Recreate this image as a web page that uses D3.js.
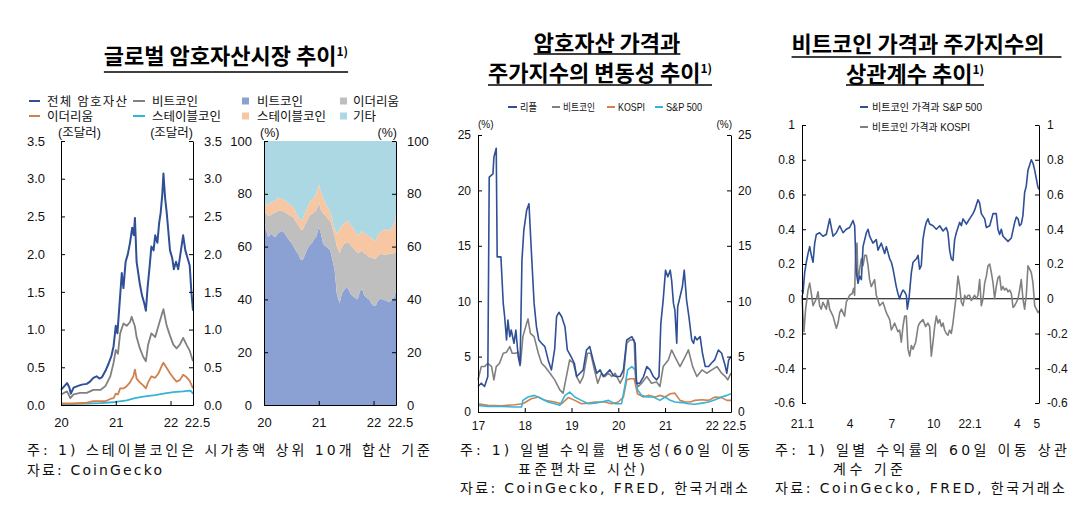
<!DOCTYPE html>
<html><head><meta charset="utf-8">
<script src="https://cdn.jsdelivr.net/npm/d3@7"></script>
<style>
body{margin:0;background:#fff}
svg{display:block}
</style>
</head><body>
<svg id="c" width="1088" height="528"></svg>
<script>
// ---------------- DATA ----------------
// Panel 1: global crypto market cap (trillion USD), [decimal year, value]
const cryptoTotal = [[2020.00,0.20],[2020.05,0.24],[2020.11,0.29],[2020.15,0.24],[2020.18,0.15],[2020.23,0.23],[2020.30,0.25],[2020.38,0.27],[2020.47,0.28],[2020.53,0.31],[2020.59,0.36],[2020.65,0.38],[2020.70,0.35],[2020.75,0.37],[2020.81,0.45],[2020.87,0.55],[2020.92,0.65],[2020.96,0.78],[2021.00,1.05],[2021.03,0.95],[2021.08,1.45],[2021.11,1.75],[2021.14,1.55],[2021.18,1.90],[2021.22,2.00],[2021.26,2.15],[2021.30,2.35],[2021.33,2.25],[2021.35,2.48],[2021.38,1.90],[2021.41,1.75],[2021.44,1.60],[2021.48,1.45],[2021.52,1.35],[2021.55,1.25],[2021.58,1.55],[2021.62,1.85],[2021.65,2.10],[2021.69,2.05],[2021.72,2.25],[2021.76,2.15],[2021.79,2.40],[2021.82,2.55],[2021.85,2.80],[2021.87,3.07],[2021.90,2.75],[2021.93,2.55],[2021.96,2.30],[2021.99,2.05],[2022.03,1.95],[2022.06,1.80],[2022.10,1.90],[2022.14,1.80],[2022.18,2.00],[2022.23,2.25],[2022.27,2.05],[2022.31,1.95],[2022.35,1.85],[2022.38,1.50],[2022.41,1.25]];
const bitcoinCap = [[2020.00,0.14],[2020.11,0.18],[2020.17,0.09],[2020.23,0.14],[2020.35,0.16],[2020.47,0.16],[2020.59,0.20],[2020.72,0.20],[2020.81,0.25],[2020.90,0.38],[2020.96,0.56],[2021.00,0.73],[2021.04,0.68],[2021.08,0.95],[2021.14,1.08],[2021.20,1.05],[2021.26,1.10],[2021.29,1.17],[2021.35,1.04],[2021.38,0.90],[2021.44,0.75],[2021.50,0.64],[2021.55,0.58],[2021.59,0.80],[2021.65,0.95],[2021.72,0.90],[2021.78,1.05],[2021.84,1.20],[2021.87,1.27],[2021.93,1.05],[2021.99,0.92],[2022.05,0.80],[2022.11,0.75],[2022.17,0.80],[2022.23,0.89],[2022.29,0.80],[2022.35,0.72],[2022.41,0.58]];
const ethereumCap = [[2020.00,0.02],[2020.20,0.02],[2020.47,0.03],[2020.59,0.05],[2020.72,0.05],[2020.81,0.05],[2020.90,0.08],[2020.96,0.09],[2021.00,0.15],[2021.04,0.14],[2021.08,0.22],[2021.14,0.22],[2021.20,0.25],[2021.26,0.30],[2021.32,0.38],[2021.35,0.47],[2021.38,0.35],[2021.44,0.30],[2021.50,0.26],[2021.55,0.22],[2021.59,0.30],[2021.65,0.38],[2021.72,0.36],[2021.78,0.42],[2021.84,0.52],[2021.87,0.56],[2021.93,0.49],[2021.99,0.42],[2022.05,0.36],[2022.11,0.31],[2022.17,0.33],[2022.23,0.40],[2022.29,0.37],[2022.35,0.32],[2022.41,0.22]];
const stableCap = [[2020.00,0.01],[2020.30,0.015],[2020.47,0.02],[2020.72,0.025],[2021.00,0.04],[2021.20,0.06],[2021.35,0.09],[2021.50,0.11],[2021.72,0.13],[2021.87,0.15],[2022.05,0.17],[2022.23,0.18],[2022.35,0.19],[2022.38,0.18],[2022.41,0.15]];

// Panel 2: market share (%), semi-monthly
const shareT = [2020.00,2020.04,2020.08,2020.13,2020.17,2020.21,2020.25,2020.29,2020.33,2020.38,2020.42,2020.46,2020.50,2020.54,2020.58,2020.63,2020.67,2020.71,2020.75,2020.79,2020.83,2020.88,2020.92,2020.96,2021.00,2021.04,2021.08,2021.13,2021.17,2021.21,2021.25,2021.29,2021.33,2021.38,2021.42,2021.46,2021.50,2021.54,2021.58,2021.63,2021.67,2021.71,2021.75,2021.79,2021.83,2021.88,2021.92,2021.96,2022.00,2022.04,2022.08,2022.13,2022.17,2022.21,2022.25,2022.29,2022.33,2022.38,2022.41];
const btcShare = [68,66,63.5,65,64,63.5,65,65.5,66,65,63.5,62.5,61.5,60,58.5,57,55,55,57,59,60.5,61.5,63,64,67.5,65,61,60,59.5,58.5,55,51,42,38.5,42,43.5,44.5,44,42,41,40.5,40,43,44,41.5,40.5,40,38.5,37.5,37.5,39.5,40.3,40,39.7,39.3,39,39.7,41,43.5];
const ethShare = [5.6,6.4,8.2,7.0,8.5,9.5,8.5,8.1,7.6,8.0,9.0,9.5,10.0,11.0,11.0,11.0,11.5,11.5,11.5,11.0,11.2,11.0,10.0,10.0,9.0,9.0,11.5,11.7,11.0,11.3,12.0,13.0,18.0,19.0,17.8,17.5,17.0,17.7,18.5,18.5,18.0,17.5,15.0,14.5,16.0,16.5,16.0,17.5,18.0,17.9,17.0,17.0,17.0,17.0,17.7,18.3,17.6,16.6,14.5];
const stableShare = [4.4,3.1,4.3,4.8,4.5,4.4,5.1,4.7,4.4,4.5,4.3,4.0,4.0,4.0,3.5,3.0,3.5,4.0,4.5,4.5,5.1,5.5,5.6,6.5,7.0,7.0,6.0,4.3,4.0,3.2,3.0,2.5,5.0,9.0,8.2,7.6,8.0,8.1,7.5,7.5,7.0,6.5,7.0,7.5,7.5,7.5,7.6,7.6,7.0,6.9,8.0,8.2,9.2,10.0,9.2,8.7,10.0,10.9,14.4];

// Panel 3: 60-day volatility (%), [decimal year, value]
const rippleVol = [[2017.00,2.3],[2017.07,2.6],[2017.14,2.3],[2017.21,3.2],[2017.24,21.2],[2017.32,21.5],[2017.34,23.0],[2017.39,23.8],[2017.41,14.0],[2017.49,14.0],[2017.54,9.8],[2017.57,8.6],[2017.61,6.5],[2017.64,8.3],[2017.68,6.8],[2017.71,7.4],[2017.77,6.2],[2017.81,7.4],[2017.86,5.0],[2017.90,4.2],[2017.94,13.7],[2017.98,16.4],[2018.04,18.2],[2018.09,18.8],[2018.14,14.6],[2018.20,9.8],[2018.25,7.7],[2018.30,6.5],[2018.36,6.2],[2018.43,5.9],[2018.50,4.7],[2018.57,3.8],[2018.64,5.7],[2018.68,8.6],[2018.73,9.0],[2018.79,8.6],[2018.86,7.7],[2018.91,5.6],[2018.99,5.0],[2019.06,4.4],[2019.11,3.2],[2019.18,3.5],[2019.25,3.8],[2019.32,5.6],[2019.39,5.9],[2019.46,4.7],[2019.54,3.5],[2019.61,3.8],[2019.68,3.2],[2019.75,3.5],[2019.82,3.8],[2019.89,3.3],[2019.96,3.2],[2020.04,3.2],[2020.11,3.8],[2020.18,6.5],[2020.29,6.8],[2020.36,6.2],[2020.39,2.6],[2020.46,2.6],[2020.54,3.2],[2020.61,4.1],[2020.68,3.8],[2020.75,3.2],[2020.82,2.9],[2020.87,3.2],[2020.91,8.0],[2020.96,10.1],[2021.01,12.8],[2021.06,12.2],[2021.11,12.8],[2021.14,11.9],[2021.18,9.8],[2021.21,9.2],[2021.25,6.2],[2021.27,9.5],[2021.32,10.4],[2021.37,11.3],[2021.41,12.8],[2021.46,10.1],[2021.51,8.6],[2021.57,6.5],[2021.61,6.2],[2021.64,6.8],[2021.68,6.5],[2021.75,6.8],[2021.80,5.3],[2021.86,4.1],[2021.93,4.1],[2021.99,4.4],[2022.06,4.7],[2022.14,5.6],[2022.21,5.3],[2022.29,4.1],[2022.32,3.5],[2022.36,4.7],[2022.41,5.0]];
const bitcoinVol = [[2017.00,2.9],[2017.07,4.1],[2017.14,4.1],[2017.21,4.4],[2017.29,4.1],[2017.34,2.9],[2017.39,4.1],[2017.46,4.4],[2017.54,5.3],[2017.61,5.4],[2017.68,5.9],[2017.73,5.3],[2017.80,5.3],[2017.86,5.4],[2017.91,4.4],[2017.96,6.8],[2018.04,8.0],[2018.07,8.4],[2018.12,7.1],[2018.20,6.8],[2018.29,5.3],[2018.36,4.4],[2018.43,4.1],[2018.54,3.5],[2018.64,2.9],[2018.75,2.0],[2018.82,1.7],[2018.89,3.2],[2018.96,4.7],[2019.04,4.4],[2019.11,3.2],[2019.18,2.6],[2019.25,3.2],[2019.34,5.3],[2019.41,5.3],[2019.49,3.8],[2019.56,2.6],[2019.64,3.5],[2019.71,3.2],[2019.79,3.5],[2019.86,3.2],[2019.93,3.5],[2020.04,2.6],[2020.11,3.2],[2020.18,6.2],[2020.25,6.5],[2020.34,6.5],[2020.37,2.9],[2020.43,2.3],[2020.50,2.6],[2020.61,3.2],[2020.71,2.6],[2020.82,2.7],[2020.89,2.3],[2020.96,4.1],[2021.07,4.7],[2021.14,5.6],[2021.21,5.0],[2021.32,4.1],[2021.43,5.0],[2021.50,5.6],[2021.59,4.1],[2021.68,3.2],[2021.79,3.8],[2021.89,3.5],[2022.00,3.8],[2022.11,4.1],[2022.21,3.5],[2022.29,3.2],[2022.34,2.9],[2022.41,3.5]];
const kospiVol = [[2017.00,0.75],[2017.21,0.6],[2017.50,0.55],[2017.79,0.66],[2017.96,0.75],[2018.14,1.2],[2018.29,1.35],[2018.43,1.05],[2018.64,0.9],[2018.79,0.75],[2018.93,1.3],[2019.07,1.05],[2019.21,0.75],[2019.36,0.8],[2019.50,0.9],[2019.71,0.9],[2019.86,0.75],[2020.00,0.9],[2020.11,1.35],[2020.18,2.9],[2020.25,3.0],[2020.34,3.0],[2020.41,1.65],[2020.54,1.35],[2020.64,1.5],[2020.79,1.35],[2020.89,1.5],[2021.00,1.35],[2021.11,1.65],[2021.21,1.7],[2021.32,1.05],[2021.43,0.9],[2021.54,0.9],[2021.64,1.05],[2021.79,1.1],[2021.93,1.05],[2022.07,1.35],[2022.21,1.3],[2022.32,1.05],[2022.41,1.05]];
const spVol = [[2017.00,0.6],[2017.21,0.5],[2017.50,0.5],[2017.79,0.45],[2017.93,0.45],[2017.96,1.05],[2018.07,1.35],[2018.21,1.5],[2018.36,1.2],[2018.50,0.9],[2018.64,0.75],[2018.75,0.6],[2018.86,1.5],[2018.96,1.8],[2019.07,1.35],[2019.21,1.05],[2019.36,0.75],[2019.50,0.8],[2019.64,0.9],[2019.79,1.05],[2019.93,0.75],[2020.07,0.75],[2020.14,2.3],[2020.20,3.8],[2020.29,4.1],[2020.36,3.8],[2020.41,2.0],[2020.50,1.5],[2020.61,1.35],[2020.75,1.35],[2020.89,1.05],[2021.00,1.35],[2021.11,1.05],[2021.21,0.9],[2021.36,0.85],[2021.50,0.75],[2021.64,0.7],[2021.79,0.8],[2021.93,0.9],[2022.07,1.1],[2022.21,1.35],[2022.32,1.5],[2022.41,1.65]];

// Panel 4: 60-day correlation, [months since 2021.1, value]
const corrSP = [[0,0.05],[0.07,0.03],[0.19,0.15],[0.31,0.21],[0.43,0.26],[0.55,0.30],[0.67,0.25],[0.79,0.21],[0.91,0.32],[1.03,0.37],[1.26,0.38],[1.50,0.36],[1.74,0.37],[1.98,0.46],[2.22,0.36],[2.46,0.38],[2.70,0.42],[2.94,0.38],[3.17,0.40],[3.41,0.41],[3.65,0.45],[3.77,0.42],[3.89,0.15],[4.01,0.09],[4.13,0.13],[4.25,0.11],[4.37,0.30],[4.61,0.38],[4.73,0.40],[4.84,0.36],[5.08,0.32],[5.32,0.34],[5.44,0.28],[5.68,0.32],[5.92,0.26],[6.04,0.30],[6.28,0.23],[6.40,0.21],[6.52,0.17],[6.75,0.07],[6.87,0.03],[6.99,0.0],[7.11,0.03],[7.23,0.05],[7.35,0.04],[7.47,0.02],[7.54,-0.06],[7.66,0.0],[7.83,0.15],[7.95,0.21],[8.19,0.23],[8.31,0.25],[8.42,0.17],[8.54,0.19],[8.66,0.34],[8.78,0.40],[8.90,0.44],[9.02,0.46],[9.14,0.43],[9.38,0.42],[9.62,0.40],[9.86,0.42],[10.10,0.39],[10.33,0.41],[10.45,0.38],[10.57,0.28],[10.69,0.23],[10.81,0.22],[10.93,0.34],[11.05,0.38],[11.29,0.44],[11.41,0.42],[11.53,0.46],[11.77,0.43],[12.00,0.46],[12.24,0.49],[12.36,0.51],[12.60,0.57],[12.72,0.55],[12.84,0.49],[13.08,0.46],[13.20,0.41],[13.44,0.42],[13.68,0.49],[13.91,0.49],[14.03,0.40],[14.15,0.37],[14.27,0.40],[14.39,0.36],[14.63,0.34],[14.75,0.33],[14.99,0.35],[15.23,0.44],[15.35,0.47],[15.47,0.46],[15.58,0.42],[15.70,0.43],[15.82,0.48],[15.94,0.61],[16.06,0.65],[16.18,0.74],[16.30,0.77],[16.42,0.80],[16.54,0.78],[16.66,0.74],[16.78,0.69],[16.90,0.64],[16.97,0.63]];
const corrKOSPI = [[0,0.02],[0.07,-0.10],[0.14,-0.19],[0.26,-0.06],[0.43,0.05],[0.55,0.09],[0.67,0.03],[0.79,-0.04],[1.03,0.0],[1.15,0.04],[1.26,-0.04],[1.38,-0.06],[1.50,-0.02],[1.74,-0.06],[1.86,0.0],[1.98,-0.06],[2.22,-0.10],[2.46,-0.17],[2.58,-0.14],[2.70,-0.08],[2.82,-0.06],[3.05,-0.10],[3.17,-0.02],[3.41,0.02],[3.60,0.03],[3.70,0.06],[3.77,0.02],[3.84,0.28],[3.94,0.32],[4.01,0.09],[4.13,0.17],[4.25,0.23],[4.37,0.19],[4.49,0.25],[4.61,0.25],[4.73,0.19],[4.84,0.11],[4.96,0.07],[5.08,0.09],[5.20,0.11],[5.32,0.02],[5.56,-0.04],[5.80,-0.02],[6.04,-0.08],[6.28,-0.12],[6.40,-0.18],[6.52,-0.16],[6.63,-0.14],[6.87,-0.19],[6.99,-0.18],[7.11,-0.25],[7.23,-0.16],[7.35,-0.10],[7.47,-0.10],[7.59,-0.29],[7.71,-0.33],[7.83,-0.27],[7.95,-0.29],[8.14,-0.25],[8.31,-0.16],[8.42,-0.14],[8.66,-0.12],[8.85,-0.16],[9.02,-0.14],[9.14,-0.16],[9.26,-0.33],[9.38,-0.25],[9.50,-0.16],[9.62,-0.10],[9.74,-0.14],[9.86,-0.12],[9.98,-0.16],[10.10,-0.14],[10.21,-0.18],[10.33,-0.20],[10.45,-0.21],[10.57,-0.18],[10.69,-0.20],[10.81,-0.14],[10.93,-0.06],[11.05,0.02],[11.17,0.13],[11.29,0.07],[11.41,-0.02],[11.53,-0.04],[11.65,0.02],[11.77,0.0],[11.89,0.02],[12.00,0.02],[12.12,-0.01],[12.36,0.02],[12.48,0.0],[12.60,0.02],[12.72,0.11],[12.84,-0.04],[12.96,0.0],[13.08,0.09],[13.20,0.13],[13.32,0.19],[13.44,0.20],[13.56,0.15],[13.68,0.09],[13.79,0.0],[13.91,0.07],[14.03,0.12],[14.15,0.13],[14.27,0.05],[14.39,0.07],[14.51,0.05],[14.63,0.06],[14.75,0.04],[14.87,0.05],[14.99,0.03],[15.11,-0.05],[15.23,-0.04],[15.35,-0.02],[15.47,0.0],[15.58,0.05],[15.70,0.11],[15.82,0.0],[15.94,-0.06],[16.06,0.02],[16.18,0.19],[16.30,0.17],[16.42,0.15],[16.54,0.09],[16.66,-0.04],[16.78,-0.06],[16.90,-0.08],[16.97,-0.07]];

// Tick values / labels
const p1YTicks = [0,0.5,1,1.5,2,2.5,3,3.5];
const p2YTicks = [0,20,40,60,80,100];
const p12XTicks = [2020,2021,2022,2022.41];
const p12XLabels = ["20","21","22","22.5"];
const p3YTicks = [0,5,10,15,20,25];
const p3XTicks = [2017,2018,2019,2020,2021,2022,2022.41];
const p3XLabels = ["17","18","19","20","21","22","22.5"];
const p4YTicks = [-0.6,-0.4,-0.2,0,0.2,0.4,0.6,0.8,1];
const p4XTicks = [0,3.41,6.4,9.4,12,15.39,16.78];
const p4XLabels = ["21.1","4","7","10","22.1","4","5"];

// ---------------- DRAW ----------------
const svg = d3.select("#c");
const KR = '"Noto Sans CJK KR","Noto Sans",sans-serif';
const KRL = '"Liberation Sans","Noto Sans CJK KR",sans-serif';
const KRD = '"DejaVu Sans","Noto Sans CJK KR",sans-serif';
const NUM = '"Liberation Sans",Arial,sans-serif';
const C = {navy:"#2f4f96", grey:"#808080", orange:"#d0814f", cyan:"#35b3d8",
  aBtc:"#8ba1d3", aEth:"#bfbfbf", aStable:"#f6c7a2", aOther:"#acd8e3"};

function styleAxis(g, fs, fam){
  g.select(".domain").attr("stroke","#000").attr("stroke-width",1);
  g.selectAll(".tick line").attr("stroke","#000");
  g.selectAll(".tick text").attr("fill","#111").style("font-size",fs+"px").style("font-family",fam);
}
function yAxes(y, x0, x1, ticks, fmt, padL, padR, fs){
  const gl = svg.append("g").attr("transform",`translate(${x0},0)`)
    .call(d3.axisLeft(y).tickValues(ticks).tickFormat(fmt).tickSizeInner(-4).tickSizeOuter(0).tickPadding(padL));
  styleAxis(gl, fs, NUM);
  const gr = svg.append("g").attr("transform",`translate(${x1},0)`)
    .call(d3.axisRight(y).tickValues(ticks).tickFormat(fmt).tickSizeInner(-4).tickSizeOuter(0).tickPadding(padR));
  styleAxis(gr, fs, NUM);
}
function xAxis(x, yPos, ticks, labels, pad, fs, showLine, lastDx){
  const g = svg.append("g").attr("transform",`translate(0,${yPos})`)
    .call(d3.axisBottom(x).tickValues(ticks).tickFormat((d,i)=>labels[i]).tickSizeInner(showLine?-4:0).tickSizeOuter(0).tickPadding(pad));
  styleAxis(g, fs, NUM);
  if(!showLine){ g.select(".domain").remove(); g.selectAll(".tick line").remove(); }
  if(lastDx) g.selectAll(".tick text").filter((d,i)=>i===ticks.length-1).attr("dx",lastDx);
  return g;
}
function line(x, y, data, color, w){
  svg.append("path").datum(data).attr("fill","none").attr("stroke",color).attr("stroke-width",w)
    .attr("stroke-linejoin","round")
    .attr("d", d3.line().x(d=>x(d[0])).y(d=>y(d[1])));
}
function title(cx, base, main, sup, uy, extR){
  const t = svg.append("text").attr("x",cx).attr("y",base).attr("text-anchor","middle")
    .style("font-family",KR).style("font-weight","700").style("font-size","22px").attr("fill","#000");
  t.append("tspan").text(main);
  if(sup) t.append("tspan").attr("dy",-8).style("font-size","12px").text(sup);
  const b = t.node().getBBox();
  svg.append("line").attr("x1",b.x).attr("x2",b.x+b.width+(extR||0)).attr("y1",uy).attr("y2",uy)
    .attr("stroke","#000").attr("stroke-width",1.5);
}
function txt(x, y, s, fs, anchor, fam, len, adj){
  const t = svg.append("text").attr("x",x).attr("y",y).attr("text-anchor",anchor||"start")
    .style("font-family",fam||KRL).style("font-size",fs+"px").attr("fill","#111").text(s);
  if(len){ t.attr("textLength",len).attr("lengthAdjust",adj||"spacing"); }
  return t;
}
function lineSwatch(x1, x2, y, color, w){
  svg.append("line").attr("x1",x1).attr("x2",x2).attr("y1",y).attr("y2",y).attr("stroke",color).attr("stroke-width",w||2);
}
function sq(x, y, s, color){
  svg.append("rect").attr("x",x).attr("y",y-s/2).attr("width",s).attr("height",s).attr("fill",color);
}

// ===== Titles =====
title(226, 64, "글로벌 암호자산시장 추이", "1)", 72);
title(607, 51, "암호자산 가격과", null, 54);
title(600, 81, "주가지수의 변동성 추이", "1)", 85);
title(918, 52, "비트코인 가격과 주가지수의", null, 57, 17);
title(915, 82, "상관계수 추이", "1)", 85);

// ===== Panel 1 legend (shared with panel 2) =====
lineSwatch(29,40,101,C.navy); txt(47,105.5,"전체 암호자산",12.5,"start",KRL,80);
lineSwatch(133,145,101,C.grey); txt(152,105.5,"비트코인",12.5);
sq(242,101,7,C.aBtc); txt(257,105.5,"비트코인",12.5);
sq(340,101,7,C.aEth); txt(353,105.5,"이더리움",12.5);
lineSwatch(29,40,116,C.orange); txt(47,120.5,"이더리움",12.5);
lineSwatch(133,145,116,C.cyan); txt(152,120.5,"스테이블코인",12.5);
sq(242,116,7,C.aStable); txt(257,120.5,"스테이블코인",12.5);
sq(340,116,7,C.aOther); txt(353,120.5,"기타",12.5);

// ===== Panel 1 =====
{
  const x = d3.scaleLinear().domain([2020,2022.41]).range([61,193]);
  const y = d3.scaleLinear().domain([0,3.5]).range([405,141]);
  line(x,y,stableCap,C.cyan,1.8);
  line(x,y,ethereumCap,C.orange,1.8);
  line(x,y,bitcoinCap,C.grey,1.8);
  line(x,y,cryptoTotal,C.navy,2);
  yAxes(y,61,193,p1YTicks,d3.format(".1f"),16,11,13);
  xAxis(x,405,p12XTicks,p12XLabels,13,13,true,4);
  txt(58,137,"(조달러)",12.5);
  txt(193,137,"(조달러)",12.5,"end");
}
// ===== Panel 2 =====
{
  const x = d3.scaleLinear().domain([2020,2022.41]).range([264,396]);
  const y = d3.scaleLinear().domain([0,100]).range([405,141]);
  const table = shareT.map((t,i)=>({t, btc:btcShare[i], eth:ethShare[i], stable:stableShare[i],
    other:100-btcShare[i]-ethShare[i]-stableShare[i]}));
  const keys = ["btc","eth","stable","other"];
  const cols = [C.aBtc,C.aEth,C.aStable,C.aOther];
  const st = d3.stack().keys(keys)(table);
  const area = d3.area().x(d=>x(d.data.t)).y0(d=>y(d[0])).y1(d=>y(d[1]));
  svg.append("g").selectAll("path").data(st).join("path").attr("d",area).attr("fill",(d,i)=>cols[i]);
  yAxes(y,264,396,p2YTicks,d3.format("d"),12,11,13);
  xAxis(x,405,p12XTicks,p12XLabels,13,13,true,4);
  txt(260,137,"(%)",12.5);
  txt(397,137,"(%)",12.5,"end");
}
// ===== Panel 3 =====
{
  const x = d3.scaleLinear().domain([2017,2022.41]).range([478,731]);
  const y = d3.scaleLinear().domain([0,25]).range([412,135]);
  line(x,y,kospiVol,C.orange,1.6);
  line(x,y,spVol,C.cyan,1.6);
  line(x,y,bitcoinVol,C.grey,1.6);
  line(x,y,rippleVol,C.navy,1.6);
  yAxes(y,478,731,p3YTicks,d3.format("d"),7,7,12);
  xAxis(x,412,p3XTicks,p3XLabels,9,12,true,3);
  txt(478,128,"(%)",10);
  txt(732,128,"(%)",10,"end");
  // legend
  const ly=107;
  lineSwatch(508,517,ly,C.navy); txt(520,111,"리플",10.5,"start",KRL,17,"spacingAndGlyphs");
  lineSwatch(552,560,ly,C.grey); txt(563,111,"비트코인",10.5,"start",KRL,32,"spacingAndGlyphs");
  lineSwatch(607,615,ly,C.orange); txt(618,111,"KOSPI",10.5,"start",KRL,27,"spacingAndGlyphs");
  lineSwatch(655,663,ly,C.cyan); txt(666,111,"S&P 500",10.5,"start",KRL,36,"spacingAndGlyphs");
}
// ===== Panel 4 =====
{
  const x = d3.scaleLinear().domain([0,16.97]).range([802,1039]);
  const y = d3.scaleLinear().domain([-0.6,1]).range([403,125]);
  svg.append("line").attr("x1",802).attr("x2",1039).attr("y1",y(0)).attr("y2",y(0)).attr("stroke","#000").attr("stroke-width",1);
  line(x,y,corrKOSPI,C.grey,1.6);
  line(x,y,corrSP,C.navy,1.6);
  yAxes(y,802,1039,p4YTicks,d=>String(d),7,8,12);
  xAxis(x,403,p4XTicks,p4XLabels,16,12,false);
  lineSwatch(860,868,107,C.navy); txt(872,111,"비트코인 가격과 S&P 500",10.5,"start",KRL,110,"spacingAndGlyphs");
  lineSwatch(860,868,127,C.grey); txt(872,131,"비트코인 가격과 KOSPI",10.5,"start",KRL,98,"spacingAndGlyphs");
}

// ===== Footnotes =====
txt(27,455,"주: 1) 스테이블코인은 시가총액 상위 10개 합산 기준",14,"start",KRD,403);
txt(27,475,"자료: CoinGecko",14,"start",KRD,135);
txt(460,455,"주: 1) 일별 수익률 변동성(60일 이동",14,"start",KRD,290);
txt(518,473.5,"표준편차로 시산)",14,"start",KRD,127);
txt(460,493,"자료: CoinGecko, FRED, 한국거래소",14,"start",KRD,288);
txt(775,455,"주: 1) 일별 수익률의 60일 이동 상관",14,"start",KRD,292);
txt(833,473.5,"계수 기준",14,"start",KRD,70);
txt(775,493,"자료: CoinGecko, FRED, 한국거래소",14,"start",KRD,290);
</script>
</body></html>
